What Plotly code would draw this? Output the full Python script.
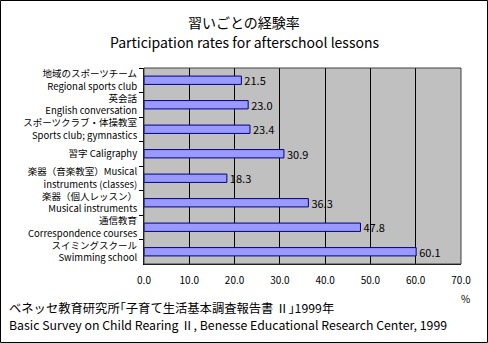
import plotly.graph_objects as go

categories = [
    "地域のスポーツチーム<br>Regional sports club",
    "英会話<br>English conversation",
    "スポーツクラブ・体操教室<br>Sports club; gymnastics",
    "習字 Caligraphy",
    "楽器（音楽教室）Musical<br>instruments (classes)",
    "楽器（個人レッスン）<br>Musical instruments",
    "通信教育<br>Correspondence courses",
    "スイミングスクール<br>Swimming school",
]
values = [21.5, 23.0, 23.4, 30.9, 18.3, 36.3, 47.8, 60.1]
x_ticks = [0, 10, 20, 30, 40, 50, 60, 70]
x_tick_labels = ["0.0", "10.0", "20.0", "30.0", "40.0", "50.0", "60.0", "70.0"]

W, H = 488, 343
ML, MR, MT, MB = 144, 27, 68, 79
PW, PH = W - ML - MR, H - MT - MB

def px(x):
    return (x - ML) / PW

def py(y):
    return (H - MB - y) / PH

FONT = "Noto Sans CJK JP"

fig = go.Figure()
fig.add_trace(go.Bar(
    y=categories, x=values, orientation="h",
    width=0.34,
    marker=dict(color="#9999ff", line=dict(color="#000080", width=1)),
    text=[f"{v:.1f}" for v in values], textposition="outside",
    constraintext="none",
    textfont=dict(family=FONT, size=11, color="black"),
    cliponaxis=False,
))

fig.update_layout(
    width=W, height=H,
    margin=dict(l=ML, r=MR, t=MT, b=MB, pad=0),
    paper_bgcolor="white", plot_bgcolor="#c0c0c0",
    showlegend=False,
    font=dict(family=FONT, size=10, color="black"),
    xaxis=dict(range=[0, 70], tickvals=x_ticks, ticktext=x_tick_labels,
               showgrid=True, gridcolor="black", gridwidth=1,
               zeroline=False, showline=True, linecolor="black", linewidth=1,
               ticks="", tickfont=dict(size=10), ticklabelstandoff=7,
               fixedrange=True),
    yaxis=dict(autorange="reversed", type="category",
               showgrid=False, zeroline=False, showline=True,
               linecolor="black", linewidth=1,
               ticks="outside", ticklen=4, tickcolor="black",
               tickson="boundaries", tickfont=dict(size=9.5),
               ticklabelstandoff=4, fixedrange=True),
)

# plot area border
fig.add_shape(type="rect", xref="paper", yref="paper", x0=0, x1=1, y0=0, y1=1,
              line=dict(color="#404040", width=1), layer="above")
# outer frame
fig.add_shape(type="rect", xref="paper", yref="paper",
              x0=px(0.5), x1=px(W - 0.5), y0=py(H - 0.5), y1=py(0.5),
              line=dict(color="black", width=1))

def ann(text, x, y, size, xanchor="center"):
    fig.add_annotation(text=text, xref="paper", yref="paper", x=px(x), y=py(y),
                       xanchor=xanchor, yanchor="middle", showarrow=False,
                       font=dict(family=FONT, size=size, color="black"))

ann("習いごとの経験率", 244, 22, 14)
ann("Participation rates for afterschool lessons", 244, 42, 14)
ann("%", 465, 298, 10)
ann("ベネッセ教育研究所｢子育て生活基本調査報告書 Ⅱ｣1999年", 7, 308, 12.3, "left")
ann("Basic Survey on Child Rearing Ⅱ, Benesse Educational Research Center, 1999", 7, 325, 12.3, "left")

fig.write_html("out.html")
